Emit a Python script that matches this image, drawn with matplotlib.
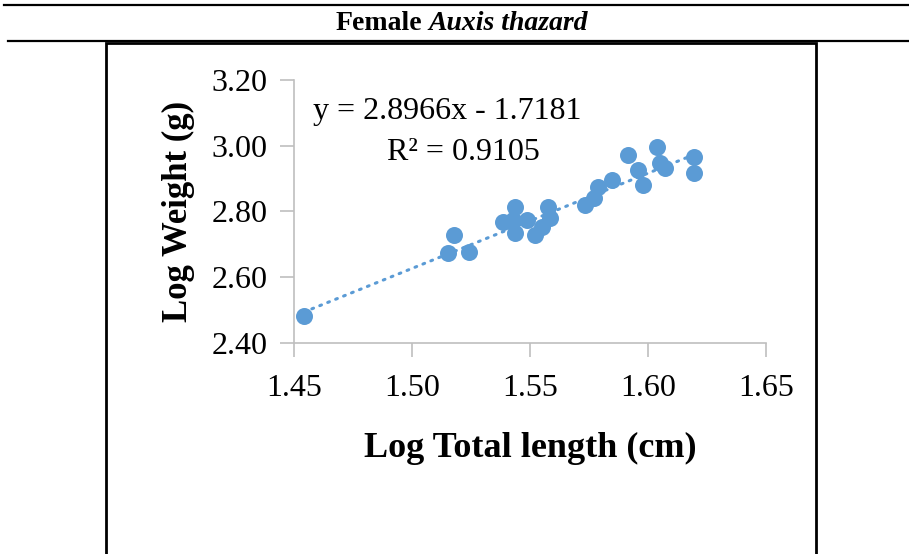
import matplotlib.pyplot as plt
import numpy as np
from matplotlib.lines import Line2D
from matplotlib.patches import Rectangle

# log total length (cm) and log weight (g)
log_length = [1.4542, 1.5154, 1.5179, 1.5243, 1.5386, 1.5428, 1.5436, 1.5436,
              1.5486, 1.5521, 1.5550, 1.5576, 1.5585, 1.5733, 1.5771, 1.5789,
              1.5846, 1.5917, 1.5959, 1.5980, 1.6037, 1.6051, 1.6072, 1.6195,
              1.6195]
log_weight = [2.482, 2.673, 2.729, 2.678, 2.769, 2.774, 2.815, 2.735,
              2.774, 2.729, 2.754, 2.815, 2.780, 2.820, 2.841, 2.875,
              2.896, 2.972, 2.926, 2.881, 2.997, 2.947, 2.932, 2.967,
              2.916]
slope = 2.8966
intercept = -1.7181
r2 = 0.9105
x_ticks = [1.45, 1.50, 1.55, 1.60, 1.65]
y_ticks = [2.40, 2.60, 2.80, 3.00, 3.20]

W, H = 909, 554
blue = "#5b9bd5"
grey = "#bfbfbf"
serif = "Liberation Serif"


def fx(px):
    return px / W


def fy(py):
    return 1 - py / H


fig = plt.figure(figsize=(W / 100, H / 100), dpi=100)

# table rules and the frame round the chart
fig.add_artist(Line2D([fx(4), fx(909)], [fy(5), fy(5)], color="black", lw=1.6))
fig.add_artist(Line2D([fx(8), fx(909)], [fy(41), fy(41)], color="black", lw=1.6))
fig.add_artist(Rectangle((fx(106), fy(560)), fx(816) - fx(106), fy(43) - fy(560),
                         fill=False, edgecolor="black", lw=2.0,
                         transform=fig.transFigure))

fig.text(fx(422), fy(24), "Female", ha="right", va="center", fontsize=20,
         fontweight="bold", family=serif)
fig.text(fx(428), fy(24), "Auxis thazard", ha="left", va="center", fontsize=20,
         fontweight="bold", fontstyle="italic", family=serif)

ax = fig.add_axes([fx(294), fy(343), fx(766) - fx(294), fy(80) - fy(343)])
ax.scatter(log_length, log_weight, s=150, color=blue, zorder=3, linewidths=0)

xs = np.array([min(log_length), max(log_length)])
ax.plot(xs, slope * xs + intercept, color=blue, lw=2.2,
        linestyle=(0, (0.6, 2.2)), dash_capstyle="round", zorder=2)

ax.set_xlim(1.45, 1.65)
ax.set_ylim(2.40, 3.20)
ax.set_xticks(x_ticks)
ax.set_yticks(y_ticks)
ax.set_xticklabels([f"{v:.2f}" for v in x_ticks], family=serif, fontsize=23)
ax.set_yticklabels([f"{v:.2f}" for v in y_ticks], family=serif, fontsize=23)
ax.tick_params(direction="out", length=10, width=1.2, color=grey)
ax.tick_params(axis="x", pad=12)
ax.tick_params(axis="y", pad=9)
for side in ["top", "right"]:
    ax.spines[side].set_visible(False)
for side in ["left", "bottom"]:
    ax.spines[side].set_color(grey)
    ax.spines[side].set_linewidth(1.2)
    ax.spines[side].set_zorder(0)

ax.set_xlabel("Log Total length (cm)", family=serif, fontsize=26,
              fontweight="bold", labelpad=21)
ax.set_ylabel("Log Weight (g)", family=serif, fontsize=25, fontweight="bold",
              labelpad=12)

fig.text(fx(447), fy(112), f"y = {slope}x - {abs(intercept)}", ha="center",
         va="center", fontsize=23, family=serif)
fig.text(fx(463), fy(153), f"R² = {r2}", ha="center", va="center",
         fontsize=23, family=serif)

fig.savefig("out.png", dpi=100)
